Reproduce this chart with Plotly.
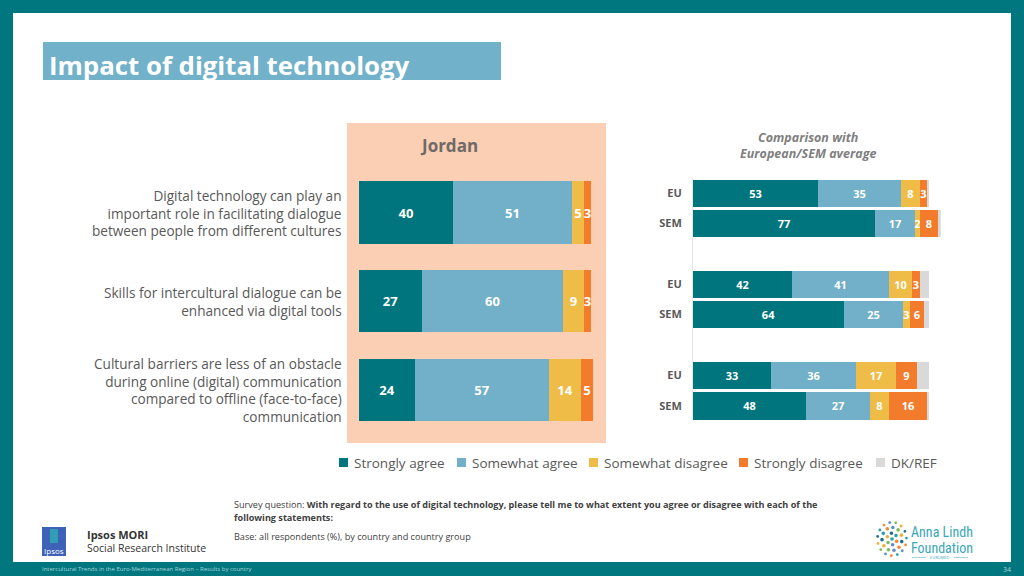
import math
import plotly.graph_objects as go

W, H = 1024, 576


def px(x):
    return x / W


def py(y):
    return 1 - y / H


# ---------------- data ----------------
series_names = ["Strongly agree", "Somewhat agree", "Somewhat disagree", "Strongly disagree", "DK/REF"]
series_colors = ["#00757d", "#71b0c8", "#f0bc48", "#f27b2c", "#d9d9d9"]

statements = [
    "Digital technology can play an<br>important role in facilitating dialogue<br>between people from different cultures",
    "Skills for intercultural dialogue can be<br>enhanced via digital tools",
    "Cultural barriers are less of an obstacle<br>during online (digital) communication<br>compared to offline (face-to-face)<br>communication",
]

jordan_strongly_agree = [40, 27, 24]
jordan_somewhat_agree = [51, 60, 57]
jordan_somewhat_disagree = [5, 9, 14]
jordan_strongly_disagree = [3, 3, 5]

comparison_groups = ["EU", "SEM", "EU", "SEM", "EU", "SEM"]
comp_strongly_agree = [53, 77, 42, 64, 33, 48]
comp_somewhat_agree = [35, 17, 41, 25, 36, 27]
comp_somewhat_disagree = [8, 2, 10, 3, 17, 8]
comp_strongly_disagree = [3, 8, 3, 6, 9, 16]
comp_dk_ref = [1, 1, 4, 2, 5, 1]

# ---------------- figure ----------------
fig = go.Figure()

jordan_series = [jordan_strongly_agree, jordan_somewhat_agree,
                 jordan_somewhat_disagree, jordan_strongly_disagree]
left_pos = list(range(len(statements)))
for name, color, vals in zip(series_names, series_colors, jordan_series):
    fig.add_trace(go.Bar(
        orientation="h", x=vals, y=left_pos, name=name,
        marker=dict(color=color, line=dict(width=0)),
        width=0.7, xaxis="x", yaxis="y",
        text=vals, texttemplate="<b>%{text}</b>",
        textposition="inside", insidetextanchor="middle", constraintext="none",
        textfont=dict(color="white", size=13, family="Open Sans"),
        showlegend=False, hoverinfo="x+name",
    ))

comp_series = [comp_strongly_agree, comp_somewhat_agree, comp_somewhat_disagree,
               comp_strongly_disagree, comp_dk_ref]
right_pos = [(i // 2) * 3 + (i % 2) for i in range(len(comparison_groups))]
for name, color, vals in zip(series_names, series_colors, comp_series):
    is_dk = name == "DK/REF"
    fig.add_trace(go.Bar(
        orientation="h", x=vals, y=right_pos, name=name,
        marker=dict(color=color, line=dict(width=0)),
        width=0.9, xaxis="x2", yaxis="y2",
        text=None if is_dk else vals,
        texttemplate=None if is_dk else "<b>%{text}</b>",
        textposition="none" if is_dk else "inside", insidetextanchor="middle", constraintext="none",
        textfont=dict(color="white", size=11, family="Open Sans"),
        showlegend=False, hoverinfo="x+name",
    ))

# ---------------- shapes ----------------
shapes = [
    # white slide area inside teal frame
    dict(type="rect", xref="paper", yref="paper", x0=px(13), x1=px(1011), y0=py(562), y1=py(13),
         fillcolor="white", line=dict(width=0), layer="below"),
    # title box
    dict(type="rect", xref="paper", yref="paper", x0=px(43), x1=px(501), y0=py(80), y1=py(42),
         fillcolor="#71b1ca", line=dict(width=0), layer="below"),
    # Jordan panel
    dict(type="rect", xref="paper", yref="paper", x0=px(347), x1=px(606), y0=py(443), y1=py(123),
         fillcolor="#fbcfb4", line=dict(width=0), layer="below"),
    # Ipsos logo
    dict(type="rect", xref="paper", yref="paper", x0=px(42), x1=px(66), y0=py(556), y1=py(527),
         fillcolor="#3d62b6", line=dict(width=0), layer="below"),
    dict(type="rect", xref="paper", yref="paper", x0=px(50), x1=px(58), y0=py(543), y1=py(529),
         fillcolor="#2f9fb5", line=dict(width=0), layer="below"),
]

# legend squares
legend_x = [339, 457, 589, 739, 876]
for lx, color in zip(legend_x, series_colors):
    shapes.append(dict(type="rect", xref="paper", yref="paper", x0=px(lx), x1=px(lx + 9),
                       y0=py(467), y1=py(458), fillcolor=color, line=dict(width=0)))

# Anna Lindh logo dots (decorative)
dot_colors = ["#2a9fb0", "#f08a3c", "#5d8fc7", "#7dbb5a", "#e2b43d", "#1f6f8b"]
cx, cy = 892, 539
n = 0
for ring, (r, count) in enumerate([(0, 1), (5, 6), (10, 11), (14.5, 15)]):
    for j in range(count):
        a = 2 * math.pi * j / max(count, 1) + ring * 0.4
        dx, dy = cx + r * math.cos(a), cy + r * 1.15 * math.sin(a)
        s = 1.8 if ring < 3 else 1.4
        shapes.append(dict(type="circle", xref="paper", yref="paper",
                           x0=px(dx - s), x1=px(dx + s), y0=py(dy + s), y1=py(dy - s),
                           fillcolor=dot_colors[n % len(dot_colors)], line=dict(width=0)))
        n += 1
shapes.append(dict(type="line", xref="paper", yref="paper", x0=px(912), x1=px(926), y0=py(557.5), y1=py(557.5),
                   line=dict(color="#8fc9d2", width=0.8)))
shapes.append(dict(type="line", xref="paper", yref="paper", x0=px(954), x1=px(968), y0=py(557.5), y1=py(557.5),
                   line=dict(color="#8fc9d2", width=0.8)))

# ---------------- annotations ----------------
grey = "#595959"
ann = []


def add_text(x, y, text, size, color=grey, xanchor="left", yanchor="middle", family="Open Sans", align="left"):
    ann.append(dict(xref="paper", yref="paper", x=px(x), y=py(y), text=text, showarrow=False,
                    xanchor=xanchor, yanchor=yanchor, align=align,
                    font=dict(size=size, color=color, family=family)))


add_text(47, 65, "<b>Impact of digital technology</b>", 25.8, color="white")
add_text(449, 145, "<b>Jordan</b>", 17, color="#6f6a67", xanchor="center")
add_text(808, 145, "<b><i>Comparison with<br>European/SEM average</i></b>", 12.5, color="#7f7f7f",
         xanchor="center", align="center")

# statement labels (aligned with left bars)
stmt_y = [213, 301, 390]
for s, yv in zip(statements, stmt_y):
    add_text(344, yv, s, 13.6, xanchor="right", align="right")

# legend labels
for lx, name in zip(legend_x, series_names):
    add_text(lx + 13, 463, name, 13.5)

# footer
add_text(232, 504, "Survey question: <b>With regard to the use of digital technology, please tell me to what extent you agree or disagree with each of the</b>",
         9.1, color="#404040")
add_text(232, 517, "<b>following statements:</b>", 9.1, color="#404040")
add_text(232, 536, "Base: all respondents (%), by country and country group", 9.1, color="#404040")
add_text(54, 550, "Ipsos", 8, color="white", xanchor="center")
add_text(85, 534, "<b>Ipsos MORI</b>", 11, color="#333333")
add_text(85, 548, "Social Research Institute", 10.5, color="#333333")
add_text(909, 532, "Anna Lindh", 14, color="#3aa7b8", family="Roboto Condensed, Liberation Sans Narrow, Roboto")
add_text(909, 548, "Foundation", 14, color="#3aa7b8", family="Roboto Condensed, Liberation Sans Narrow, Roboto")
add_text(940, 557.5, "EUROMED", 4, color="#3aa7b8", xanchor="center")
add_text(40, 569, "Intercultural Trends in the Euro-Mediterranean Region \u2013 Results by country", 6,
         color="#a9d3d7")
add_text(1013, 569, "34", 7, color="#a9d3d7", xanchor="right")

fig.update_layout(
    width=W, height=H,
    margin=dict(l=0, r=0, t=0, b=0),
    paper_bgcolor="#00767f", plot_bgcolor="rgba(0,0,0,0)",
    barmode="stack", bargap=0,
    showlegend=False,
    font=dict(family="Open Sans", color=grey),
    xaxis=dict(domain=[px(359), px(593)], range=[0, 100], visible=False, anchor="y", fixedrange=True),
    yaxis=dict(domain=[py(434.75), py(168.25)], range=[2.5, -0.5], visible=False, anchor="x", fixedrange=True),
    xaxis2=dict(domain=[px(693), px(940.8)], range=[0, 105], visible=False, anchor="y2", fixedrange=True),
    yaxis2=dict(domain=[py(421), py(177.8)], range=[7.5, -0.5], anchor="x2",
                tickmode="array", tickvals=right_pos, ticktext=[f"<b>{g}</b>" for g in comparison_groups],
                tickfont=dict(size=11, color=grey, family="Open Sans"),
                showline=True, linecolor="#e6e6e6", linewidth=1,
                showgrid=False, zeroline=False, ticks="", ticklabelstandoff=8, fixedrange=True),
    shapes=shapes,
    annotations=ann,
)

fig.write_html("out.html", config={"displayModeBar": False},
               post_script="document.body.style.margin='0';document.body.style.overflow='hidden';")
